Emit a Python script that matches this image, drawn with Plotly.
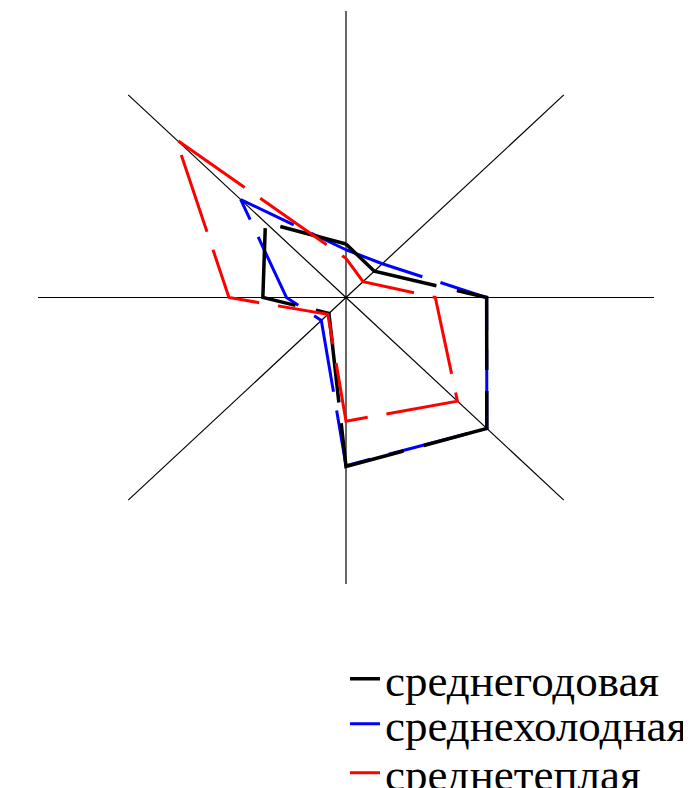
import numpy as np
import plotly.graph_objects as go

# роза ветров: 8 румбов, по часовой стрелке от севера
directions = ["С", "СВ", "В", "ЮВ", "Ю", "ЮЗ", "З", "СЗ"]
angles = [0, 45, 90, 135, 180, 225, 270, 315]

annual = [5.6, 3.9, 13.7, 19.4, 17.7, 2.35, 8.1, 11.1]    # среднегодовая
cold = [5.0, 5.0, 13.7, 19.4, 17.6, 3.4, 5.8, 14.5]       # среднехолодная
warm = [4.1, 2.35, 8.7, 15.35, 12.95, 2.5, 11.4, 23.4]    # среднетеплая

r_max = 30


def to_xy(values):
    # замкнутый контур, начинается с севера
    r = np.array(values + values[:1], dtype=float)
    th = np.radians(angles + angles[:1])
    return (r * np.sin(th)).tolist(), (r * np.cos(th)).tolist()


fig = go.Figure()

# лучи румбов
sx, sy = [], []
for a in angles:
    t = np.radians(a)
    sx += [0.0, float(r_max * np.sin(t)), None]
    sy += [0.0, float(r_max * np.cos(t)), None]
fig.add_trace(go.Scatter(x=sx, y=sy, mode="lines", line=dict(color="#000", width=1.2),
                         showlegend=False, hoverinfo="skip"))

series = [
    # (name, values, color, width, dash, legend, rank) - синий снизу, чёрный над ним
    ("среднехолодная", cold, "#0000ff", 3, "81px,19px", "legend2", 2),
    ("среднегодовая", annual, "#000000", 3.5, "103px,21px", "legend", 1),
    ("среднетеплая", warm, "#ff0000", 3, "81px,19px", "legend3", 3),
]
for name, vals, col, w, dash, leg, rank in series:
    x, y = to_xy(vals)
    fig.add_trace(go.Scatter(
        x=x, y=y, mode="lines", name=name, legend=leg, legendrank=rank,
        line=dict(color=col, width=w, dash=dash),
        hoverinfo="name",
    ))

leg_font = dict(family="Liberation Serif, Times New Roman, serif", size=45, color="black")
def leg(yc):
    return dict(x=337 / 691, xref="container", xanchor="left",
                y=1 - yc / 788, yref="container", yanchor="middle",
                font=leg_font, bgcolor="rgba(0,0,0,0)", borderwidth=0)

fig.update_layout(
    width=691, height=788,
    margin=dict(l=30, r=45, t=3, b=212, autoexpand=False),
    paper_bgcolor="white", plot_bgcolor="white",
    xaxis=dict(range=[-r_max, r_max], visible=False, fixedrange=True),
    yaxis=dict(range=[-r_max, r_max], visible=False, fixedrange=True),
    legend=leg(671), legend2=leg(716), legend3=leg(765),
)

fig.write_html("out.html")
